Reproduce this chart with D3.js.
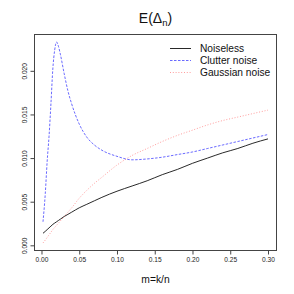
<!DOCTYPE html>
<html><head><meta charset="utf-8">
<script src="https://cdn.jsdelivr.net/npm/d3@7"></script>
<style>html,body{margin:0;padding:0;background:#fff;}svg{display:block;font-family:"Liberation Sans",Arial,Helvetica,sans-serif;}</style>
</head><body>
<svg id="c" width="294" height="294"></svg>
<script>
const mValues = [0.002,0.005,0.0075,0.01,0.0125,0.015,0.0175,0.02,0.0225,0.025,0.03,0.035,0.04,0.05,0.06,0.07,0.08,0.1,0.12,0.14,0.16,0.18,0.2,0.22,0.24,0.26,0.28,0.3];
const noiseless = [0.00138,0.0016,0.0018,0.0020,0.0022,0.0024,0.00255,0.0027,0.00285,0.0030,0.0033,0.00355,0.0038,0.0043,0.0047,0.0051,0.0055,0.0062,0.0068,0.0074,0.0081,0.0087,0.0094,0.0100,0.0106,0.0111,0.0117,0.0122];
const clutter = [0.0027,0.0059,0.0096,0.0125,0.0162,0.0202,0.0224,0.0233,0.0228,0.0219,0.0197,0.0177,0.0162,0.0139,0.0124,0.0115,0.0109,0.0102,0.0098,0.0099,0.0101,0.0104,0.0107,0.0111,0.0115,0.0119,0.0123,0.0127];
const gaussian = [0.00027,0.0006,0.0009,0.0012,0.0015,0.0018,0.00205,0.0023,0.00255,0.0028,0.0033,0.0038,0.0043,0.0054,0.0063,0.0071,0.0078,0.0092,0.0103,0.0111,0.0119,0.0126,0.0132,0.0138,0.0143,0.0147,0.0151,0.0155];
const seriesNames = ["Noiseless","Clutter noise","Gaussian noise"];
const xTicks = [0,0.05,0.1,0.15,0.2,0.25,0.3];
const yTicks = [0,0.005,0.01,0.015,0.02];

const styles = [
  {color:"#111", dash:null, w:0.9, op:1},
  {color:"#2222ff", dash:"2.5,1.5", w:0.8, op:0.85},
  {color:"#ff4444", dash:"1,1.8", w:0.7, op:0.75}
];
const seriesData = [noiseless, clutter, gaussian];

const L=34,R=277,T=34,B=251;
function pad(ext){const d=(ext[1]-ext[0])*0.04;return [ext[0]-d,ext[1]+d];}
const x = d3.scaleLinear().domain(pad(d3.extent(mValues))).range([L,R]);
const allV = [].concat(noiseless,clutter,gaussian);
const y = d3.scaleLinear().domain(pad(d3.extent(allV))).range([B,T]);

const svg = d3.select("#c");
const axisCol="#444";

const line = d3.line().x(d=>x(d[0])).y(d=>y(d[1])).curve(d3.curveMonotoneX);
seriesData.forEach((vals,i)=>{
  svg.append("path").datum(mValues.map((m,j)=>[m,vals[j]]))
    .attr("d",line).attr("fill","none")
    .attr("stroke",styles[i].color).attr("stroke-width",styles[i].w)
    .attr("stroke-opacity",styles[i].op)
    .attr("stroke-dasharray",styles[i].dash);
});

svg.append("rect").attr("x",L+0.5).attr("y",T+0.5).attr("width",R-L-1).attr("height",B-T-1)
  .attr("fill","none").attr("stroke",axisCol).attr("stroke-width",1);

const xa = svg.append("g").attr("transform",`translate(0,${B-0.5})`)
  .call(d3.axisBottom(x).tickValues(xTicks).tickSize(4).tickPadding(3).tickFormat(d3.format(".2f")));
xa.select(".domain").remove();
xa.selectAll("line").attr("stroke",axisCol);
xa.selectAll("text").attr("font-size",6.6).attr("fill","#222").attr("font-family","Liberation Sans, Arial, sans-serif");

const ya = svg.append("g").attr("transform",`translate(${L+0.5},0)`)
  .call(d3.axisLeft(y).tickValues(yTicks).tickSize(4).tickFormat(d3.format(".3f")));
ya.select(".domain").remove();
ya.selectAll("line").attr("stroke",axisCol);
ya.selectAll("text").attr("font-size",6.6).attr("fill","#222").attr("font-family","Liberation Sans, Arial, sans-serif")
  .attr("text-anchor","middle").attr("dy",null).attr("x",null)
  .attr("transform","translate(-8,0) rotate(-90)");

const title = svg.append("text").attr("x",(L+R)/2).attr("y",23).attr("text-anchor","middle")
  .attr("font-size",14).attr("fill","#111");
title.append("tspan").text("E(Δ");
title.append("tspan").attr("font-size",9.5).attr("dy",3).text("n");
title.append("tspan").attr("dy",-3).text(")");

svg.append("text").attr("x",(L+R)/2).attr("y",283).attr("text-anchor","middle")
  .attr("font-size",10.3).attr("fill","#111").text("m=k/n");

seriesNames.forEach((n,i)=>{
  const yy = 48.5 + i*12;
  svg.append("line").attr("x1",170).attr("x2",191).attr("y1",yy).attr("y2",yy)
    .attr("stroke",styles[i].color).attr("stroke-width",styles[i].w)
    .attr("stroke-opacity",styles[i].op).attr("stroke-dasharray",styles[i].dash);
  svg.append("text").attr("x",200).attr("y",yy+3.6).attr("font-size",10.2).attr("fill","#111").text(n);
});
</script>
</body></html>
